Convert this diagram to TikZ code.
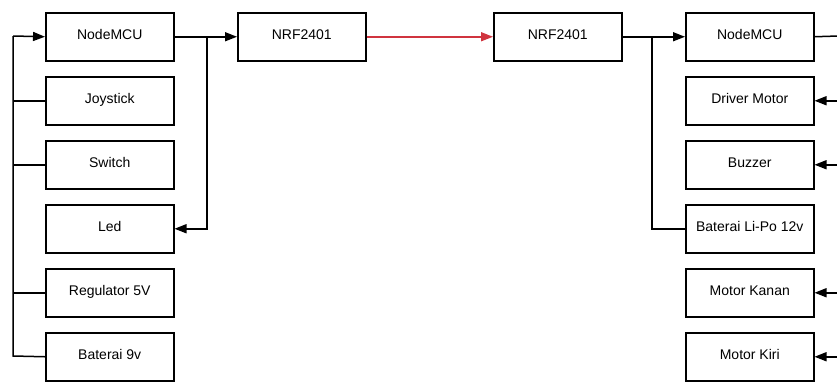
\documentclass[tikz,border=0pt]{standalone}
\usepackage{fontspec}
\setmainfont{Liberation Sans}
\usetikzlibrary{arrows.meta}
\definecolor{redline}{HTML}{D0343F}
\begin{document}
\begin{tikzpicture}[x=1pt,y=-1pt,
  blk/.style={draw=black,line width=1.5pt,minimum width=128pt,minimum height=48pt,inner sep=0pt,text height=10pt,text depth=5.4pt,font=\fontsize{14}{16}\selectfont,anchor=north west},
  wire/.style={draw=black,line width=1.5pt},
  arr/.style={wire,-{Triangle[length=12pt,width=9pt]}},
  redarr/.style={draw=redline,line width=1.5pt,-{Triangle[length=12pt,width=9pt]}}]
\useasboundingbox (0,0) rectangle (837,381);
% left column
\node[blk] (lmcu) at (45,12) {NodeMCU};
\node[blk] (joy) at (45,76) {Joystick};
\node[blk] (sw) at (45,140) {Switch};
\node[blk] (led) at (45,204) {Led};
\node[blk] (reg) at (45,268) {Regulator 5V};
\node[blk] (bat9) at (45,332) {Baterai 9v};
% NRF
\node[blk] (nrf1) at (237,12) {NRF2401};
\node[blk] (nrf2) at (493,12) {NRF2401};
% right column
\node[blk] (rmcu) at (685,12) {NodeMCU};
\node[blk] (drv) at (685,76) {Driver Motor};
\node[blk] (buz) at (685,140) {Buzzer};
\node[blk] (lipo) at (685,204) {Baterai Li-Po 12v};
\node[blk] (mkan) at (685,268) {Motor Kanan};
\node[blk] (mkir) at (685,332) {Motor Kiri};
% left bus
\coordinate (lbt) at (13,36);
\coordinate (lbb) at (13,356);
\draw[wire] (bat9.west) -- (lbb) -- (lbt);
\draw[arr] (lbt) -- (lmcu.west);
\draw[wire] (joy.west) -- (joy.west -| lbt);
\draw[wire] (sw.west) -- (sw.west -| lbt);
\draw[wire] (reg.west) -- (reg.west -| lbt);
% left mcu to nrf and led
\draw[arr] (lmcu.east) -- (nrf1.west);
\coordinate (lbr) at (207,36);
\draw[arr] (lbr) |- (led.east);
% radio link
\draw[redarr] (nrf1.east) -- (nrf2.west);
% right side
\draw[arr] (nrf2.east) -- (rmcu.west);
\coordinate (rbr) at (652,36);
\draw[wire] (rbr) |- (lipo.west);
\coordinate (redge) at (838,36);
\draw[wire] (rmcu.east) -- (redge);
\draw[arr] (drv.east -| redge) -- (drv.east);
\draw[arr] (buz.east -| redge) -- (buz.east);
\draw[arr] (mkan.east -| redge) -- (mkan.east);
\draw[arr] (mkir.east -| redge) -- (mkir.east);
\end{tikzpicture}
\end{document}
